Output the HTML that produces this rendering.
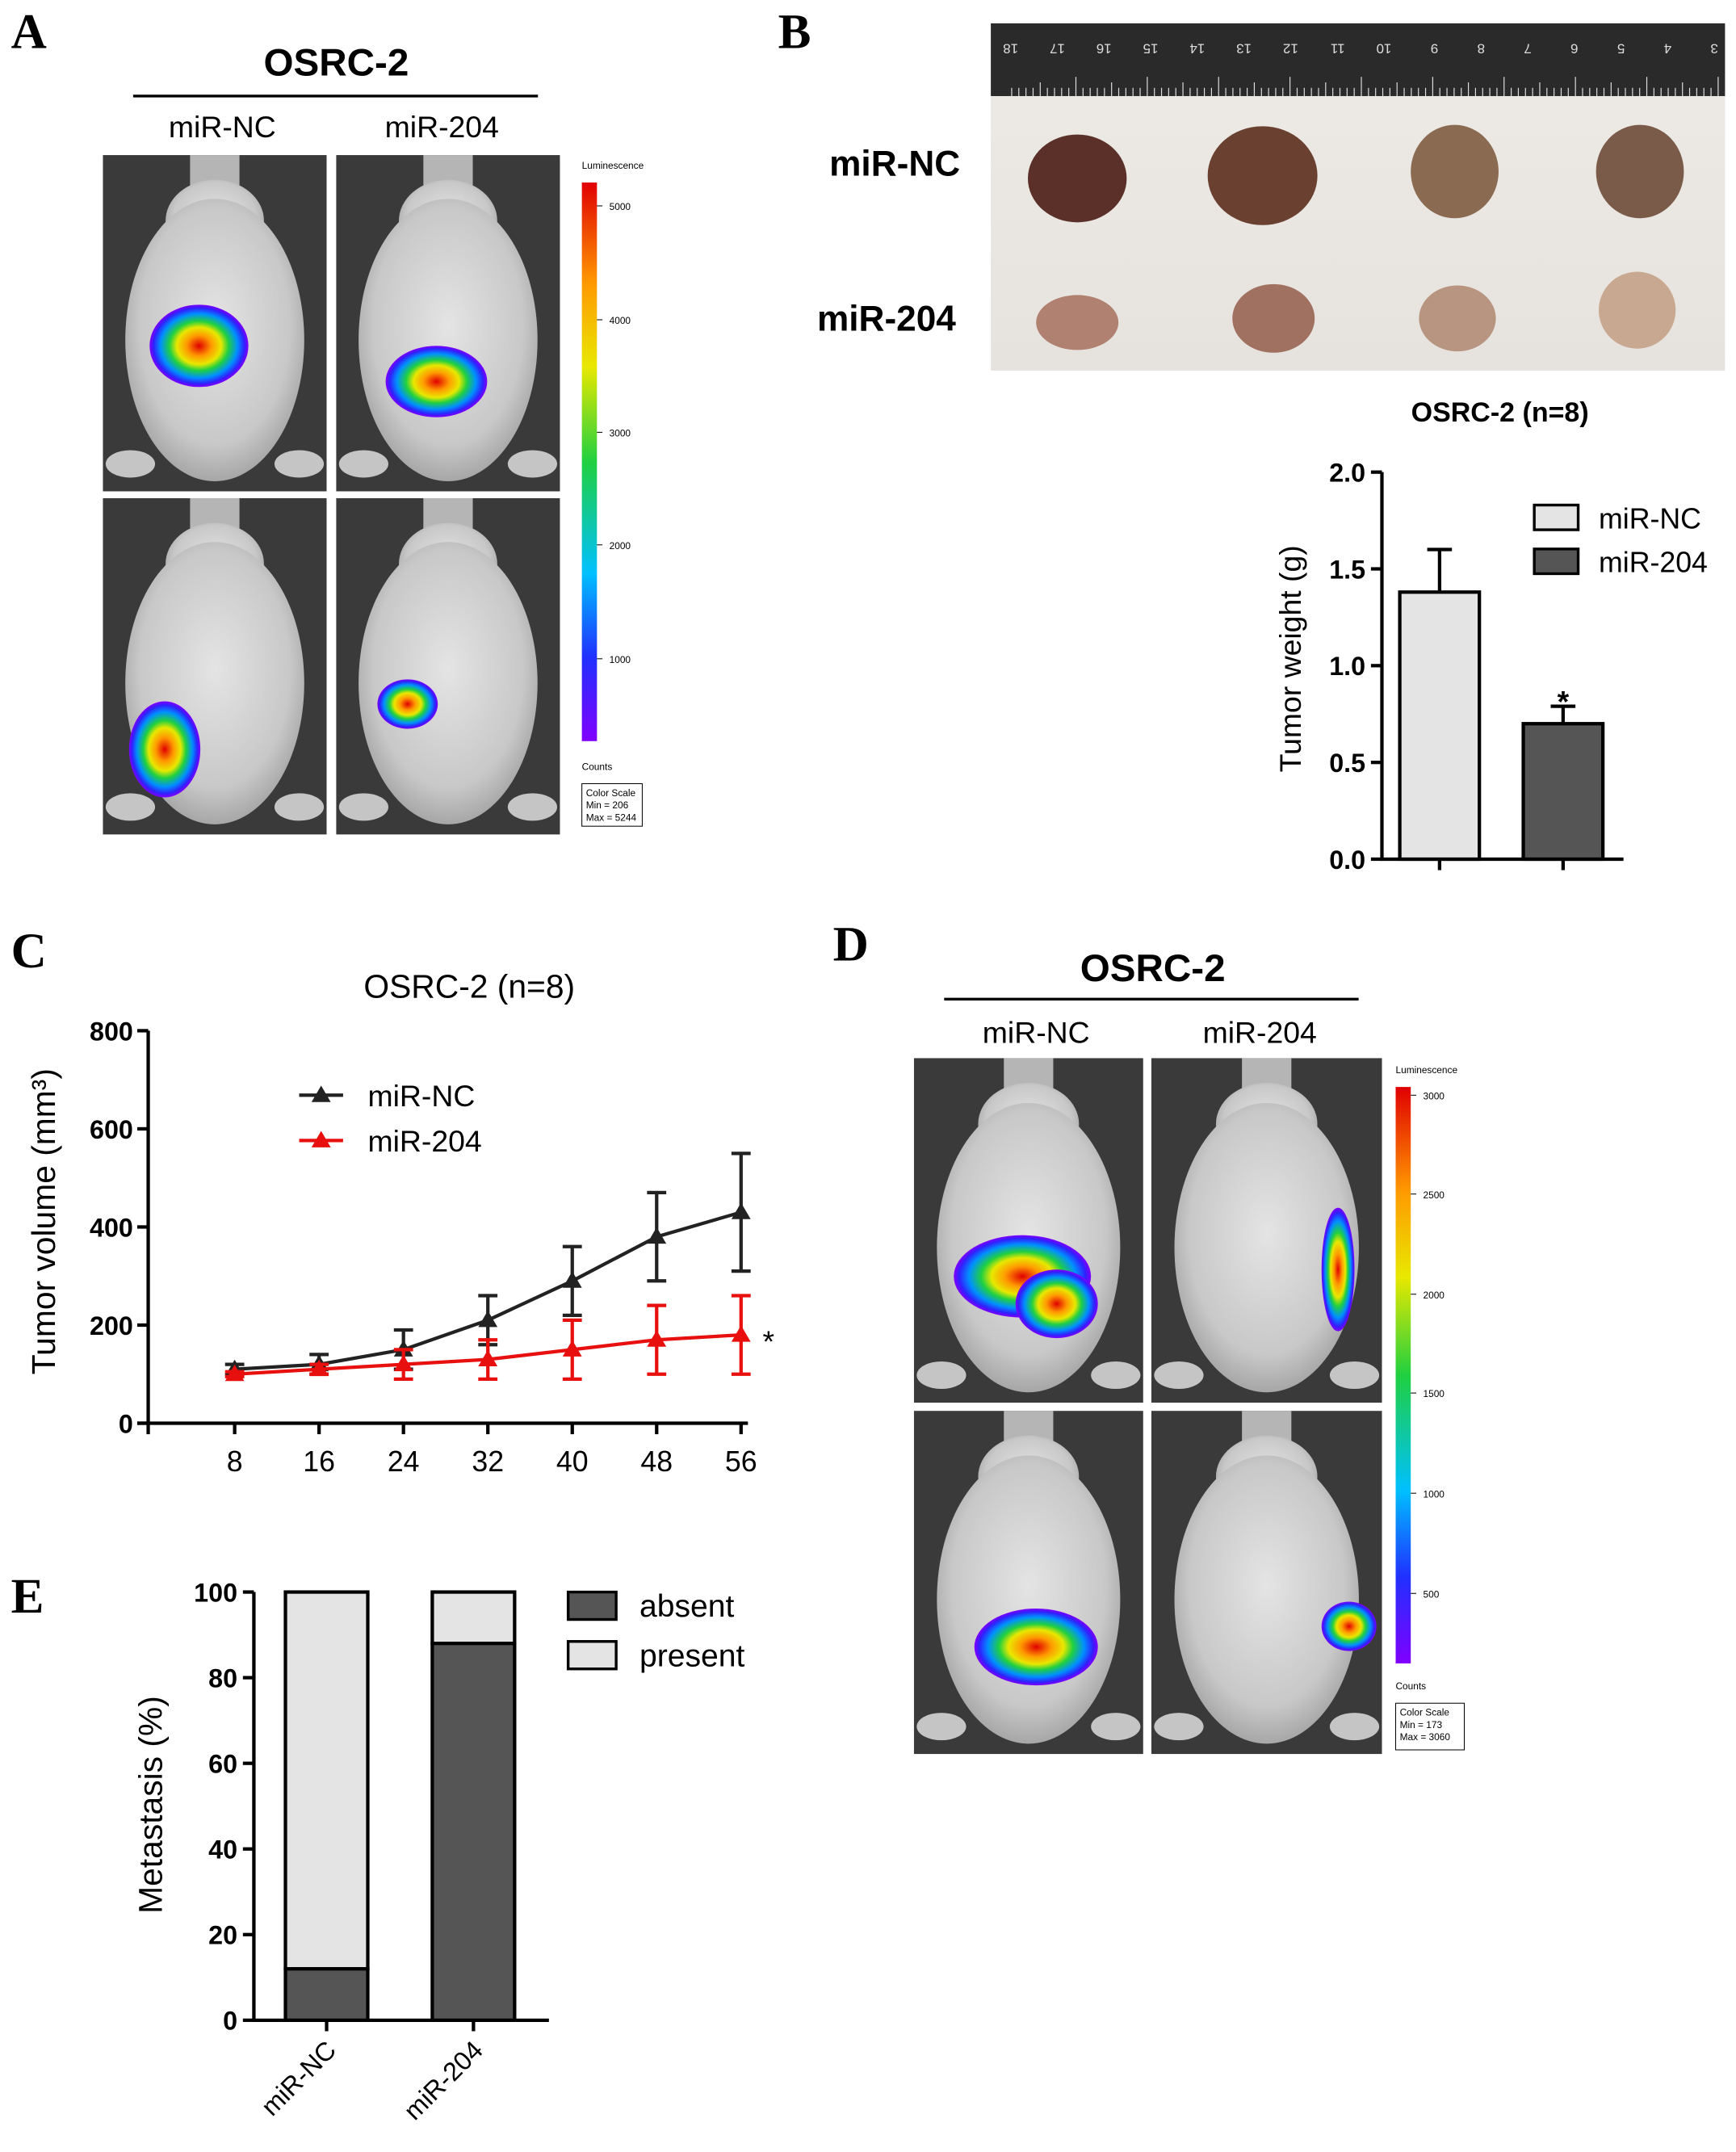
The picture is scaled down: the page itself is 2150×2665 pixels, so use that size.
<!DOCTYPE html>
<html><head><meta charset="utf-8">
<style>
html,body{margin:0;padding:0;background:#fff;}
svg{display:block;font-family:"Liberation Sans",sans-serif;}
.lt{font-family:"Liberation Serif",serif;font-weight:bold;font-size:36px;}
.tick{font-size:19px;font-weight:bold;}
</style></head>
<body>
<svg id="fig" width="2150" height="2665" viewBox="0 0 1265 1568" xmlns="http://www.w3.org/2000/svg">
<defs>
  <radialGradient id="blob" cx="50%" cy="50%" r="50%">
    <stop offset="0" stop-color="#e00000"/>
    <stop offset="0.25" stop-color="#ff9900"/>
    <stop offset="0.45" stop-color="#e8e800"/>
    <stop offset="0.6" stop-color="#20d040"/>
    <stop offset="0.78" stop-color="#0090ff"/>
    <stop offset="0.92" stop-color="#3020ff"/>
    <stop offset="1" stop-color="#8000ff"/>
  </radialGradient>
  <linearGradient id="cbar" x1="0" y1="0" x2="0" y2="1">
    <stop offset="0" stop-color="#e00000"/>
    <stop offset="0.18" stop-color="#ff9900"/>
    <stop offset="0.33" stop-color="#e8e800"/>
    <stop offset="0.5" stop-color="#20d040"/>
    <stop offset="0.7" stop-color="#00c0ff"/>
    <stop offset="0.85" stop-color="#2030ff"/>
    <stop offset="1" stop-color="#8000ff"/>
  </linearGradient>
  <radialGradient id="mouse" cx="50%" cy="45%" r="60%">
    <stop offset="0" stop-color="#e4e4e4"/>
    <stop offset="0.7" stop-color="#c8c8c8"/>
    <stop offset="1" stop-color="#9a9a9a"/>
  </radialGradient>
  <linearGradient id="tumorbg" x1="0" y1="0" x2="0" y2="1">
    <stop offset="0" stop-color="#eeeae6"/><stop offset="1" stop-color="#e6e2de"/>
  </linearGradient>
</defs>

<!-- Panel A -->
<text class="lt" x="8" y="35">A</text>
<text x="245" y="55" text-anchor="middle" font-size="28" font-weight="bold">OSRC-2</text>
<line x1="97" y1="70" x2="392" y2="70" stroke="#000" stroke-width="2"/>
<text x="162" y="100" text-anchor="middle" font-size="22">miR-NC</text>
<text x="322" y="100" text-anchor="middle" font-size="22">miR-204</text>
<g id="panelA"></g>

<!-- Panel B -->
<text class="lt" x="567" y="35">B</text>
<g>
  <rect x="722" y="17" width="535" height="253" fill="url(#tumorbg)"/>
  <rect x="722" y="17" width="535" height="53" fill="#2a2a2a"/>
  <g id="ruler"></g>
  <ellipse cx="785" cy="130" rx="36" ry="32" fill="#5a3028"/>
  <ellipse cx="920" cy="128" rx="40" ry="36" fill="#6a4030"/>
  <ellipse cx="1060" cy="125" rx="32" ry="34" fill="#8a6a50"/>
  <ellipse cx="1195" cy="125" rx="32" ry="34" fill="#7a5a48"/>
  <ellipse cx="785" cy="235" rx="30" ry="20" fill="#b08070"/>
  <ellipse cx="928" cy="232" rx="30" ry="25" fill="#a07060"/>
  <ellipse cx="1062" cy="232" rx="28" ry="24" fill="#b89580"/>
  <ellipse cx="1193" cy="226" rx="28" ry="28" fill="#c8a890"/>
</g>
<text x="652" y="128" text-anchor="middle" font-size="26" font-weight="bold">miR-NC</text>
<text x="646" y="241" text-anchor="middle" font-size="26" font-weight="bold">miR-204</text>
<text x="1093" y="307" text-anchor="middle" font-size="20" font-weight="bold">OSRC-2  (n=8)</text>
<g id="chartB"></g>

<!-- Panel C -->
<text class="lt" x="8" y="705">C</text>
<text x="342" y="727" text-anchor="middle" font-size="24">OSRC-2 (n=8)</text>
<g id="chartC"></g>

<!-- Panel D -->
<text class="lt" x="607" y="700">D</text>
<text x="840" y="715" text-anchor="middle" font-size="28" font-weight="bold">OSRC-2</text>
<line x1="688" y1="728" x2="990" y2="728" stroke="#000" stroke-width="2"/>
<text x="755" y="760" text-anchor="middle" font-size="22">miR-NC</text>
<text x="918" y="760" text-anchor="middle" font-size="22">miR-204</text>
<g id="panelD"></g>

<!-- Panel E -->
<text class="lt" x="8" y="1175">E</text>
<g id="chartE"></g>

<script>
// ---------- data ----------
const weightGroups = ["miR-NC", "miR-204"];
const weightMeans = [1.38, 0.70];
const weightErr = [0.22, 0.09];
const weightTicks = [0, 0.5, 1.0, 1.5, 2.0];

const days = [8, 16, 24, 32, 40, 48, 56];
const ncVolume = [110, 120, 150, 210, 290, 380, 430];
const ncErr = [10, 20, 40, 50, 70, 90, 120];
const m204Volume = [100, 110, 120, 130, 150, 170, 180];
const m204Err = [5, 10, 30, 40, 60, 70, 80];
const volumeTicks = [0, 200, 400, 600, 800];

const metaGroups = ["miR-NC", "miR-204"];
const metaAbsent = [12, 88];
const metaTicks = [0, 20, 40, 60, 80, 100];

const NS = "http://www.w3.org/2000/svg";
function mk(parent, tag, attrs, text) {
  const e = document.createElementNS(NS, tag);
  for (const k in attrs) e.setAttribute(k, attrs[k]);
  if (text !== undefined) e.textContent = text;
  parent.appendChild(e);
  return e;
}

// ---------- mouse images ----------
function mousePanel(g, x, y, w, h, blobs) {
  mk(g, "rect", {x, y, width: w, height: h, fill: "#3a3a3a"});
  const cx = x + w / 2;
  mk(g, "rect", {x: cx - 18, y: y, width: 36, height: 25, fill: "#b5b5b5"});
  mk(g, "ellipse", {cx, cy: y + 48, rx: w * 0.22, ry: 30, fill: "url(#mouse)"});
  mk(g, "ellipse", {cx, cy: y + h * 0.55, rx: w * 0.4, ry: h * 0.42, fill: "url(#mouse)"});
  mk(g, "ellipse", {cx: x + 20, cy: y + h - 20, rx: 18, ry: 10, fill: "#c5c5c5"});
  mk(g, "ellipse", {cx: x + w - 20, cy: y + h - 20, rx: 18, ry: 10, fill: "#c5c5c5"});
  blobs.forEach(b => mk(g, "ellipse", {cx: b[0], cy: b[1], rx: b[2], ry: b[3], fill: "url(#blob)"}));
}
function colorbar(g, x, y1, y2, labels, lblY, title, cy, boxY, boxW, boxH, lines) {
  mk(g, "text", {x, y: y1 - 10, "font-size": 7}, title);
  mk(g, "rect", {x, y: y1, width: 11, height: y2 - y1, fill: "url(#cbar)"});
  labels.forEach((l, i) => {
    mk(g, "line", {x1: x + 11, y1: lblY[i], x2: x + 15, y2: lblY[i], stroke: "#000", "stroke-width": 0.6});
    mk(g, "text", {x: x + 20, y: lblY[i] + 3, "font-size": 7}, l);
  });
  mk(g, "text", {x, y: cy, "font-size": 7}, "Counts");
  mk(g, "rect", {x, y: boxY, width: boxW, height: boxH, fill: "#fff", stroke: "#000", "stroke-width": 0.6});
  lines.forEach((t, i) => mk(g, "text", {x: x + 3, y: boxY + 9 + i * 9, "font-size": 7}, t));
}
const gA = document.getElementById("panelA");
mousePanel(gA, 75, 113, 163, 245, [[145, 252, 36, 30]]);
mousePanel(gA, 245, 113, 163, 245, [[318, 278, 37, 26]]);
mousePanel(gA, 75, 363, 163, 245, [[120, 546, 26, 35]]);
mousePanel(gA, 245, 363, 163, 245, [[297, 513, 22, 18]]);
colorbar(gA, 424, 133, 540, ["5000","4000","3000","2000","1000"], [150,233,315,397,480], "Luminescence", 561, 571, 44, 31, ["Color Scale","Min = 206","Max = 5244"]);

const gD = document.getElementById("panelD");
mousePanel(gD, 666, 771, 167, 251, [[745, 930, 50, 30], [770, 950, 30, 25]]);
mousePanel(gD, 839, 771, 168, 251, [[975, 925, 12, 45]]);
mousePanel(gD, 666, 1028, 167, 250, [[755, 1200, 45, 28]]);
mousePanel(gD, 839, 1028, 168, 250, [[983, 1185, 20, 18]]);
colorbar(gD, 1017, 792, 1212, ["3000","2500","2000","1500","1000","500"], [798,870,943,1015,1088,1161], "Luminescence", 1231, 1241, 50, 34, ["Color Scale","Min = 173","Max = 3060"]);

// ruler
const gr = document.getElementById("ruler");
for (let i = 0; i < 100; i++) {
  const x = 1252 - i * 5.2;
  mk(gr, "line", {x1: x, y1: 70, x2: x, y2: 70 - (i % 10 === 0 ? 14 : (i % 5 === 0 ? 10 : 6)), stroke: "#ddd", "stroke-width": 0.7});
}
for (let n = 3; n <= 18; n++) {
  mk(gr, "text", {x: 1252 - (n - 3) * 34 - 8, y: 40, "font-size": 10, fill: "#ddd", transform: `rotate(180 ${1252 - (n - 3) * 34 - 4} 36)`}, String(n));
}

// ---------- Chart B ----------
(function () {
  const g = document.getElementById("chartB");
  const y = v => 626 - v * (282 / 2.0);
  const xc = [1049, 1139];
  mk(g, "line", {x1: 1007, y1: 344, x2: 1007, y2: 627, stroke: "#000", "stroke-width": 2.5});
  mk(g, "line", {x1: 1006, y1: 626, x2: 1183, y2: 626, stroke: "#000", "stroke-width": 2.5});
  weightTicks.forEach(t => {
    mk(g, "line", {x1: 999, y1: y(t), x2: 1007, y2: y(t), stroke: "#000", "stroke-width": 2.5});
    mk(g, "text", {x: 995, y: y(t) + 7, "text-anchor": "end", class: "tick"}, t.toFixed(1));
  });
  const fills = ["#e4e4e4", "#555"];
  weightGroups.forEach((gname, i) => {
    mk(g, "line", {x1: xc[i], y1: y(weightMeans[i] + weightErr[i]), x2: xc[i], y2: y(weightMeans[i]), stroke: "#000", "stroke-width": 2.5});
    mk(g, "line", {x1: xc[i] - 9, y1: y(weightMeans[i] + weightErr[i]), x2: xc[i] + 9, y2: y(weightMeans[i] + weightErr[i]), stroke: "#000", "stroke-width": 2.5});
    const r = mk(g, "rect", {x: xc[i] - 29, y: y(weightMeans[i]), width: 58, height: 626 - y(weightMeans[i]), fill: fills[i], stroke: "#000", "stroke-width": 2.5});
    
    
    mk(g, "line", {x1: xc[i], y1: 626, x2: xc[i], y2: 634, stroke: "#000", "stroke-width": 2.5});
  });
  mk(g, "text", {x: xc[1], y: y(weightMeans[1] + weightErr[1]) + 4, "text-anchor": "middle", "font-size": 22, "font-weight": "bold"}, "*");
  mk(g, "text", {x: 948, y: 480, "text-anchor": "middle", "font-size": 22, transform: "rotate(-90 948 480)"}, "Tumor weight (g)");
  mk(g, "rect", {x: 1118, y: 368, width: 32, height: 18, fill: "#e4e4e4", stroke: "#000", "stroke-width": 2});
  mk(g, "text", {x: 1165, y: 385, "font-size": 21}, "miR-NC");
  mk(g, "rect", {x: 1118, y: 400, width: 32, height: 18, fill: "#555", stroke: "#000", "stroke-width": 2});
  mk(g, "text", {x: 1165, y: 417, "font-size": 21}, "miR-204");
})();

// ---------- Chart C ----------
(function () {
  const g = document.getElementById("chartC");
  const x = t => 171 + (t - 8) * (369 / 48);
  const y = v => 1037 - v * (286 / 800);
  mk(g, "line", {x1: 108, y1: 751, x2: 108, y2: 1045, stroke: "#000", "stroke-width": 2.5});
  mk(g, "line", {x1: 100, y1: 1037, x2: 545, y2: 1037, stroke: "#000", "stroke-width": 2.5});
  volumeTicks.forEach(t => {
    mk(g, "line", {x1: 100, y1: y(t), x2: 108, y2: y(t), stroke: "#000", "stroke-width": 2.5});
    mk(g, "text", {x: 97, y: y(t) + 7, "text-anchor": "end", class: "tick"}, String(t));
  });
  days.forEach(d => {
    mk(g, "line", {x1: x(d), y1: 1037, x2: x(d), y2: 1045, stroke: "#000", "stroke-width": 2.5});
    mk(g, "text", {x: x(d), y: 1072, "text-anchor": "middle", "font-size": 21}, String(d));
  });
  function series(vals, errs, color, name) {
    const pts = vals.map((v, i) => x(days[i]) + "," + y(v)).join(" ");
    const pl = mk(g, "polyline", {points: pts, fill: "none", stroke: color, "stroke-width": 2.5});
    
    
    vals.forEach((v, i) => {
      const xx = x(days[i]);
      mk(g, "line", {x1: xx, y1: y(v - errs[i]), x2: xx, y2: y(v + errs[i]), stroke: color, "stroke-width": 2.5});
      mk(g, "line", {x1: xx - 7, y1: y(v + errs[i]), x2: xx + 7, y2: y(v + errs[i]), stroke: color, "stroke-width": 2.5});
      mk(g, "line", {x1: xx - 7, y1: y(v - errs[i]), x2: xx + 7, y2: y(v - errs[i]), stroke: color, "stroke-width": 2.5});
      const p = mk(g, "polygon", {points: `${xx},${y(v) - 7} ${xx - 7},${y(v) + 5} ${xx + 7},${y(v) + 5}`, fill: color});
      
      
    });
  }
  series(ncVolume, ncErr, "#222", "mir-nc");
  series(m204Volume, m204Err, "#e8100e", "mir-204");
  mk(g, "text", {x: 560, y: 985, "text-anchor": "middle", "font-size": 22}, "*");
  mk(g, "text", {x: 40, y: 890, "text-anchor": "middle", "font-size": 24, transform: "rotate(-90 40 890)"}, "Tumor volume (mm³)");
  mk(g, "line", {x1: 218, y1: 798, x2: 250, y2: 798, stroke: "#222", "stroke-width": 2.5});
  mk(g, "polygon", {points: "234,791 227,803 241,803", fill: "#222"});
  mk(g, "text", {x: 268, y: 806, "font-size": 22}, "miR-NC");
  mk(g, "line", {x1: 218, y1: 831, x2: 250, y2: 831, stroke: "#e8100e", "stroke-width": 2.5});
  mk(g, "polygon", {points: "234,824 227,836 241,836", fill: "#e8100e"});
  mk(g, "text", {x: 268, y: 839, "font-size": 22}, "miR-204");
})();

// ---------- Chart E ----------
(function () {
  const g = document.getElementById("chartE");
  const y = v => 1472 - v * (312 / 100);
  const xc = [238, 345];
  mk(g, "line", {x1: 185, y1: 1160, x2: 185, y2: 1473, stroke: "#000", "stroke-width": 2.5});
  mk(g, "line", {x1: 184, y1: 1472, x2: 400, y2: 1472, stroke: "#000", "stroke-width": 2.5});
  metaTicks.forEach(t => {
    mk(g, "line", {x1: 177, y1: y(t), x2: 185, y2: y(t), stroke: "#000", "stroke-width": 2.5});
    mk(g, "text", {x: 173, y: y(t) + 7, "text-anchor": "end", class: "tick"}, String(t));
  });
  metaGroups.forEach((name, i) => {
    const rp = mk(g, "rect", {x: xc[i] - 30, y: y(100), width: 60, height: y(metaAbsent[i]) - y(100), fill: "#e4e4e4", stroke: "#000", "stroke-width": 2.5});
    
    
    const ra = mk(g, "rect", {x: xc[i] - 30, y: y(metaAbsent[i]), width: 60, height: 1472 - y(metaAbsent[i]), fill: "#555", stroke: "#000", "stroke-width": 2.5});
    
    
    mk(g, "line", {x1: xc[i], y1: 1472, x2: xc[i], y2: 1480, stroke: "#000", "stroke-width": 2.5});
    mk(g, "text", {x: xc[i] + 8, y: 1495, "text-anchor": "end", "font-size": 19, transform: `rotate(-45 ${xc[i] + 8} 1495)`}, name);
  });
  mk(g, "text", {x: 118, y: 1315, "text-anchor": "middle", "font-size": 24, transform: "rotate(-90 118 1315)"}, "Metastasis (%)");
  mk(g, "rect", {x: 414, y: 1160, width: 35, height: 20, fill: "#555", stroke: "#000", "stroke-width": 2});
  mk(g, "text", {x: 466, y: 1178, "font-size": 23}, "absent");
  mk(g, "rect", {x: 414, y: 1196, width: 35, height: 20, fill: "#e4e4e4", stroke: "#000", "stroke-width": 2});
  mk(g, "text", {x: 466, y: 1214, "font-size": 23}, "present");
})();
</script>
</svg>
</body></html>
